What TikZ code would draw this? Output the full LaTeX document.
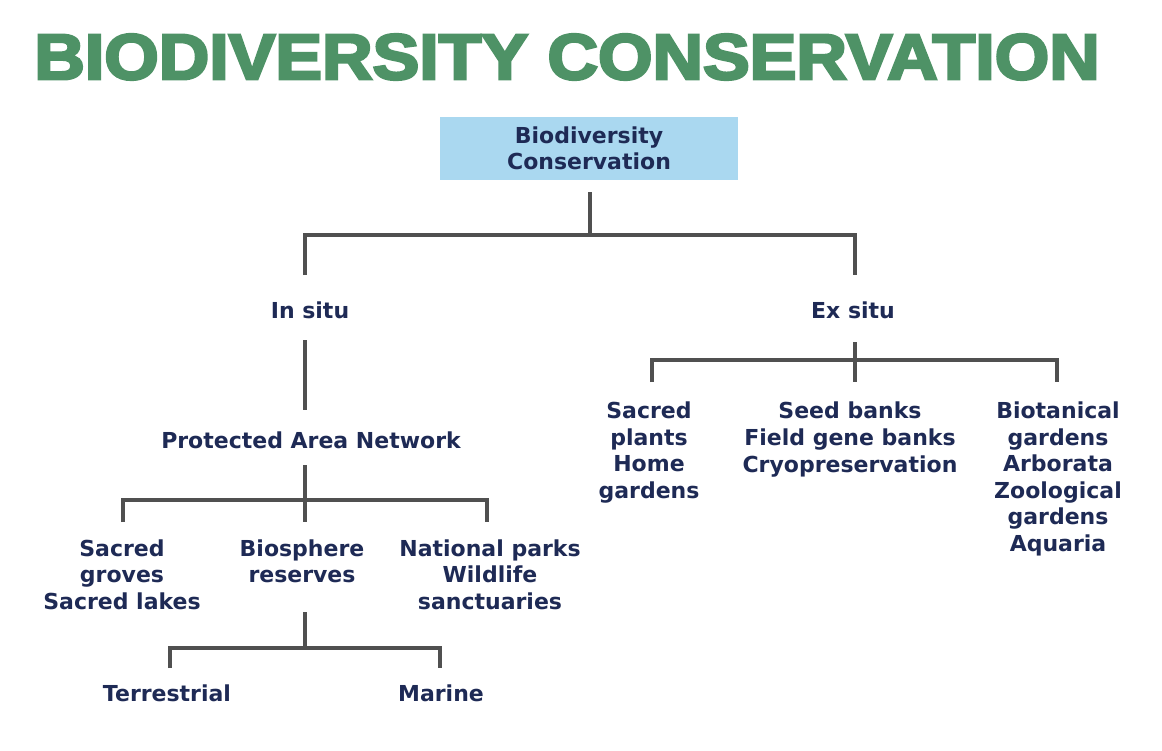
\documentclass[tikz,border=0pt]{standalone}
\usepackage{fontspec}
\setmainfont{DejaVu Sans}
\newfontfamily\titlefont[FakeBold=4]{Liberation Sans Bold}
\usetikzlibrary{calc}
\definecolor{titlegreen}{RGB}{78,146,102}
\definecolor{navy}{RGB}{30,42,85}
\definecolor{boxblue}{RGB}{170,216,240}
\definecolor{linegray}{RGB}{80,80,80}
\begin{document}
\begin{tikzpicture}[x=0.75pt,y=-0.75pt,
  lbl/.style={font=\bfseries\fontsize{16.5}{19.9}\selectfont, text=navy, align=center, inner sep=0pt},
  conn/.style={draw=linegray, line width=3pt, line join=miter}]
\useasboundingbox[fill=white] (0,0) rectangle (1162,750);
% title
\node[inner sep=0pt, text=titlegreen] (title) at (567,57)
  {\resizebox{798.75pt}{33.75pt}{\titlefont BIODIVERSITY CONSERVATION}};
% root
\node[lbl, fill=boxblue, minimum width=223.5pt, minimum height=47.25pt] (root) at (589,148.5)
  {Biodiversity\\Conservation};
% labels
\node[lbl] (insitu) at (310,310) {In situ};
\node[lbl] (exsitu) at (853,310) {Ex situ};
\node[lbl] (pan) at (311,440) {Protected Area Network};
\node[lbl] (groves) at (122,574.5) {Sacred\\groves\\Sacred lakes};
\node[lbl] (bios) at (302,561.5) {Biosphere\\reserves};
\node[lbl] (parks) at (490,574.5) {National parks\\Wildlife\\sanctuaries};
\node[lbl] (terr) at (167,693) {Terrestrial};
\node[lbl] (marine) at (441,693) {Marine};
\node[lbl] (plants) at (649,452.5) {Sacred\\plants\\Home\\gardens};
\node[lbl] (seed) at (850,439.5) {Seed banks\\Field gene banks\\Cryopreservation};
\node[lbl] (botan) at (1058,479) {Biotanical\\gardens\\Arborata\\Zoological\\gardens\\Aquaria};
% junction coordinates
\coordinate (r1) at (590,192);
\coordinate (r2) at (590,235);
\coordinate (a1) at (305,275);
\coordinate (a2) at (305,235);
\coordinate (b2) at (855,235);
\coordinate (b1) at (855,275);
\coordinate (i1) at (305,340);
\coordinate (i2) at (305,410);
\coordinate (p1) at (305,465);
\coordinate (p2) at (305,522);
\coordinate (pl1) at (123,500);
\coordinate (pl2) at (123,522);
\coordinate (pr1) at (487,500);
\coordinate (pr2) at (487,522);
\coordinate (s1) at (305,612);
\coordinate (s2) at (305,648);
\coordinate (sl1) at (170,648);
\coordinate (sl2) at (170,668);
\coordinate (sr1) at (440,648);
\coordinate (sr2) at (440,668);
\coordinate (e1) at (855,342);
\coordinate (e2) at (855,382);
\coordinate (el1) at (652,360);
\coordinate (el2) at (652,382);
\coordinate (er1) at (1057,360);
\coordinate (er2) at (1057,382);
% connectors
\draw[conn] (r1) -- (r2);
\draw[conn] (a1) -- (a2) -- (b2) -- (b1);
\draw[conn] (i1) -- (i2);
\draw[conn] (p1) -- (p2);
\draw[conn] (pl2) -- (pl1) -- (pr1) -- (pr2);
\draw[conn] (s1) -- (s2);
\draw[conn] (sl2) -- (sl1) -- (sr1) -- (sr2);
\draw[conn] (e1) -- (e2);
\draw[conn] (el2) -- (el1) -- (er1) -- (er2);
\end{tikzpicture}
\end{document}
